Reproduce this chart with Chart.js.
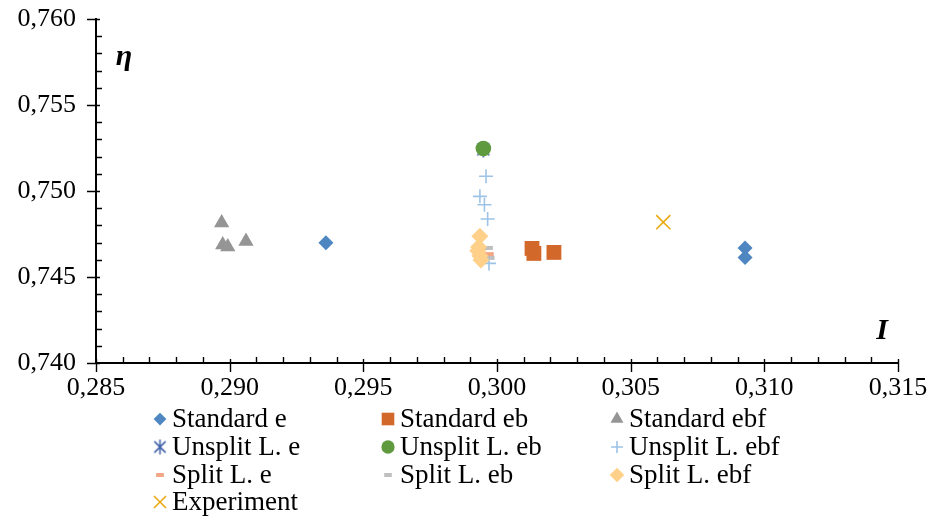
<!DOCTYPE html>
<html>
<head>
<meta charset="utf-8">
<script src="https://cdn.jsdelivr.net/npm/chart.js@4/dist/chart.umd.min.js"></script>
<style>
  html, body { margin: 0; padding: 0; background: #fff; }
  #wrap { width: 931px; height: 518px; position: relative; }
</style>
</head>
<body>
<div id="wrap"><canvas id="c"></canvas></div>
<script>
// Efficiency (eta) versus current coefficient (I) for each model variant
const seriesNames = [
  'Standard e', 'Standard eb', 'Standard ebf',
  'Unsplit L. e', 'Unsplit L. eb', 'Unsplit L. ebf',
  'Split L. e', 'Split L. eb', 'Split L. ebf',
  'Experiment'
];

const standardE_I   = [0.29360, 0.30928, 0.30928];
const standardE_eta = [0.74699, 0.74668, 0.74613];

const standardEb_I   = [0.30131, 0.30138, 0.30213];
const standardEb_eta = [0.74666, 0.74637, 0.74643];

const standardEbf_I   = [0.28970, 0.28974, 0.28993, 0.29061];
const standardEbf_eta = [0.74815, 0.74687, 0.74675, 0.74707];

const unsplitE_I   = [0.29949];
const unsplitE_eta = [0.75242];

const unsplitEb_I   = [0.29949];
const unsplitEb_eta = [0.75247];

const unsplitEbf_I   = [0.29959, 0.29936, 0.29953, 0.29965, 0.29970];
const unsplitEbf_eta = [0.75086, 0.74969, 0.74920, 0.74837, 0.74579];

const splitE_I   = [0.29971];
const splitE_eta = [0.74633];

const splitEb_I   = [0.29968, 0.29974];
const splitEb_eta = [0.74669, 0.74611];

const splitEbf_I   = [0.29936, 0.29931, 0.29928, 0.29936, 0.29940];
const splitEbf_eta = [0.74737, 0.74675, 0.74652, 0.74623, 0.74599];

const experiment_I   = [0.30622];
const experiment_eta = [0.74819];

const xTickValues = [0.285, 0.290, 0.295, 0.300, 0.305, 0.310, 0.315];
const yTickValues = [0.740, 0.745, 0.750, 0.755, 0.760];

const FONT = "'Liberation Serif', 'Times New Roman', serif";

function pairs(xs, ys) { return xs.map((x, i) => ({ x: x, y: ys[i] })); }

// Six-armed asterisk marker (X with a vertical bar)
function asteriskMarker(size, color, lw) {
  const c = document.createElement('canvas');
  c.width = size; c.height = size;
  const g = c.getContext('2d');
  g.strokeStyle = color; g.lineWidth = lw;
  const m = size / 2, r = size / 2 - 1;
  g.beginPath();
  g.moveTo(m, m - r); g.lineTo(m, m + r);
  g.moveTo(m - r * 0.75, m - r * 0.75); g.lineTo(m + r * 0.75, m + r * 0.75);
  g.moveTo(m + r * 0.75, m - r * 0.75); g.lineTo(m - r * 0.75, m + r * 0.75);
  g.stroke();
  return c;
}

const styles = [
  { pointStyle: 'rectRot',  radius: 7.5, bg: '#4E86C1', border: '#4E86C1', bw: 0 },
  { pointStyle: 'rect',     radius: 10.5, bg: '#D2692B', border: '#D2692B', bw: 0 },
  { pointStyle: 'triangle', radius: 8.8, bg: '#959595', border: '#959595', bw: 0 },
  { pointStyle: asteriskMarker(18, '#3D5FA8', 1.6), legendStyle: asteriskMarker(17, '#3D5FA8', 1.5), radius: 8, bg: '#3D5FA8', border: '#3D5FA8', bw: 0 },
  { pointStyle: 'circle',   radius: 7.8, bg: '#5F9B3E', border: '#5F9B3E', bw: 0 },
  { pointStyle: 'cross',    radius: 7,   bg: '#9DC3E6', border: '#9DC3E6', bw: 1.6 },
  { pointStyle: 'line',     radius: 4.5, bg: '#F4A582', border: '#F4A582', bw: 4 },
  { pointStyle: 'line',     radius: 4.5, bg: '#BFBFBF', border: '#BFBFBF', bw: 4 },
  { pointStyle: 'rectRot',  radius: 8.5, bg: '#FFD08A', border: '#FFD08A', bw: 0 },
  { pointStyle: 'crossRot', radius: 10,  bg: '#E8AA10', border: '#E8AA10', bw: 1.6 }
];

const seriesData = [
  pairs(standardE_I, standardE_eta),
  pairs(standardEb_I, standardEb_eta),
  pairs(standardEbf_I, standardEbf_eta),
  pairs(unsplitE_I, unsplitE_eta),
  pairs(unsplitEb_I, unsplitEb_eta),
  pairs(unsplitEbf_I, unsplitEbf_eta),
  pairs(splitE_I, splitE_eta),
  pairs(splitEb_I, splitEb_eta),
  pairs(splitEbf_I, splitEbf_eta),
  pairs(experiment_I, experiment_eta)
];

const datasets = seriesNames.map((name, i) => ({
  label: name,
  data: seriesData[i],
  showLine: false,
  pointStyle: styles[i].pointStyle,
  pointRadius: styles[i].radius,
  pointHoverRadius: styles[i].radius,
  pointBackgroundColor: styles[i].bg,
  pointBorderColor: styles[i].border,
  pointBorderWidth: styles[i].bw,
  backgroundColor: styles[i].bg,
  borderColor: styles[i].border,
  order: 20 - i   // later series painted on top
}));

const fmt = v => v.toFixed(3).replace('.', ',');

// Major/minor tick marks in the Excel manner: majors cross the axis, minors sit inside
const tickMarks = {
  id: 'tickMarks',
  afterDraw(chart) {
    const { ctx, chartArea: a, scales: { x, y } } = chart;
    ctx.save();
    ctx.strokeStyle = '#000';
    ctx.lineWidth = 1.4;
    ctx.beginPath();
    for (let k = 0; k <= 20; k++) {
      const v = 0.740 + k * 0.001;
      const py = Math.round(y.getPixelForValue(v)) + 0.5;
      if (k % 5 === 0) { ctx.moveTo(a.left - 9, py); ctx.lineTo(a.left + 4, py); }
      else { ctx.moveTo(a.left, py); ctx.lineTo(a.left + 6, py); }
    }
    for (let k = 0; k <= 30; k++) {
      const v = 0.285 + k * 0.001;
      const px = Math.round(x.getPixelForValue(v)) + 0.5;
      if (k % 5 === 0) { ctx.moveTo(px, a.bottom - 4); ctx.lineTo(px, a.bottom + 9); }
      else { ctx.moveTo(px, a.bottom); ctx.lineTo(px, a.bottom - 6); }
    }
    ctx.stroke();

    // axis titles inside the plot corners
    ctx.fillStyle = '#000';
    ctx.font = "italic bold 30px " + FONT;
    ctx.textAlign = 'center';
    ctx.textBaseline = 'middle';
    ctx.fillText('η', a.left + 28, a.top + 38);
    ctx.fillText('I', a.right - 16, a.bottom - 32);
    ctx.restore();
  }
};

// Three-column legend below the plot
const gridLegend = {
  id: 'gridLegend',
  afterDraw(chart) {
    const { ctx } = chart;
    const colX = [160, 388, 617];
    const rowY = [419, 447, 475, 502];
    ctx.save();
    ctx.font = "27px " + FONT;
    ctx.textBaseline = 'middle';
    ctx.textAlign = 'left';
    seriesNames.forEach((name, i) => {
      const cx = colX[i % 3], cy = rowY[Math.floor(i / 3)];
      const s = styles[i];
      ctx.fillStyle = s.bg;
      ctx.strokeStyle = s.border;
      ctx.lineWidth = s.bw;
      const ps = s.legendStyle || s.pointStyle;
      Chart.helpers.drawPoint(ctx, {
        pointStyle: ps,
        radius: typeof ps === 'string' ? s.radius * 0.85 : 8,
        borderWidth: s.bw === 4 ? 3.5 : s.bw,
        rotation: 0
      }, cx, cy);
      ctx.fillStyle = '#000';
      ctx.fillText(name, cx + 12, cy + 1);
    });
    ctx.restore();
  }
};

new Chart(document.getElementById('c'), {
  type: 'scatter',
  data: { datasets },
  options: {
    responsive: true,
    maintainAspectRatio: false,
    animation: false,
    devicePixelRatio: 1,
    layout: { padding: { left: 0, top: 19, right: 33, bottom: 115 } },
    plugins: {
      legend: { display: false },
      tooltip: { enabled: false }
    },
    scales: {
      x: {
        type: 'linear',
        min: 0.285, max: 0.315,
        afterBuildTicks: s => { s.ticks = xTickValues.map(v => ({ value: v })); },
        afterFit: s => { s.height = 40; s.paddingLeft = 0; s.paddingRight = 0; },
        grid: { display: false, drawTicks: false },
        border: { display: true, color: '#000', width: 2 },
        ticks: { color: '#000', padding: 10, maxRotation: 0, font: { family: FONT, size: 26 }, callback: v => fmt(v) }
      },
      y: {
        type: 'linear',
        min: 0.740, max: 0.760,
        afterBuildTicks: s => { s.ticks = yTickValues.map(v => ({ value: v })); },
        afterFit: s => { s.width = 96; s.paddingTop = 0; s.paddingBottom = 0; },
        grid: { display: false, drawTicks: false },
        border: { display: true, color: '#000', width: 2 },
        ticks: { color: '#000', padding: 20, font: { family: FONT, size: 26 }, callback: v => fmt(v) }
      }
    }
  },
  plugins: [tickMarks, gridLegend]
});
</script>
</body>
</html>
